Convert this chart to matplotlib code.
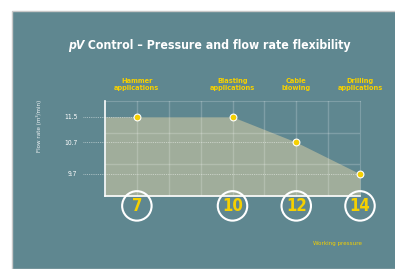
import matplotlib
matplotlib.use("Agg")
import matplotlib.pyplot as plt
from matplotlib.patches import Rectangle

# data
pressure = [6, 10, 12, 14]          # working pressure (bar) for the fill outline
flow = [11.5, 11.5, 10.7, 9.7]      # flow rate (m3/min)
point_x = [7, 10, 12, 14]
point_y = [11.5, 11.5, 10.7, 9.7]
apps = ["Hammer\napplications", "Blasting\napplications", "Cable\nblowing", "Drilling\napplications"]
ytick_vals = [9.7, 10.7, 11.5]
ytick_labels = ["9.7", "10.7", "11.5"]
guide_x = [7, 12, 14]               # where each dotted guide stops
guide_y = [11.5, 10.7, 9.7]

TEAL = "#5f8790"
FILL = "#a0ad9b"
YELLOW = "#f5d000"
plt.rcParams["font.family"] = "DejaVu Sans"
plt.rcParams["font.stretch"] = "condensed"

W, H = 395, 269
fig = plt.figure(figsize=(W / 100, H / 100), dpi=100, facecolor="white")

# teal panel with thin grey edge
fig.patches.append(Rectangle((12 / W, 0), 1, 1 - 11 / H, transform=fig.transFigure,
                             facecolor=TEAL, edgecolor="#c8c8c8", lw=1, zorder=-1))

ax = fig.add_axes([105 / W, (H - 196) / H, 255 / W, 95 / H])
ax.set_facecolor("none")
ax.set_xlim(6, 14)
ax.set_ylim(9, 12)

ax.fill_between(pressure, flow, 9, color=FILL, lw=0, zorder=1)

# grid
ax.set_xticks(range(7, 14))
ax.set_xticklabels([])
ax.set_yticks([10, 11], minor=True)
ax.grid(axis="x", color="white", alpha=0.2, lw=1)
ax.grid(axis="y", which="minor", color="white", alpha=0.2, lw=1)
ax.tick_params(axis="both", which="both", length=0)

# dotted guides
for gx, gy in zip(guide_x, guide_y):
    ax.plot([5.3, gx], [gy, gy], ls=(0, (1, 1.2)), color="white", alpha=0.6,
            lw=0.6, clip_on=False, zorder=2)

ax.set_yticks(ytick_vals)
ax.set_yticklabels(ytick_labels, color="white", fontsize=4.8)
ax.tick_params(axis="y", pad=20)

for s in ["top", "right"]:
    ax.spines[s].set_color("white")
    ax.spines[s].set_alpha(0.2)
for s in ["left", "bottom"]:
    ax.spines[s].set_color("white")
    ax.spines[s].set_linewidth(1.2)

ax.scatter(point_x, point_y, s=24, color=YELLOW, edgecolor="white", lw=0.8,
           zorder=5, clip_on=False)

# circled pressures below the axis
circle_y = 9 - 10 / 32.0
ax.scatter(point_x, [circle_y] * len(point_x), s=450, facecolor="none",
           edgecolor="white", lw=1.5, clip_on=False, zorder=5)
for px in point_x:
    ax.text(px, circle_y, str(px), ha="center", va="center", color=YELLOW,
            fontsize=12, fontweight="bold", zorder=6)

# application labels above
for px, lab in zip(point_x, apps):
    ax.text(px, 12.0 + 0.52, lab, ha="center", va="center", color=YELLOW,
            fontsize=5.3, fontweight="bold", linespacing=1.05)

fig.text(39 / W, 1 - 126 / H, "Flow rate (m\u00b3/min)", rotation=90, ha="center",
         va="center", color="white", fontsize=4.5, alpha=0.9)
fig.text(337 / W, 1 - 243 / H, "Working pressure", ha="center", va="center",
         color=YELLOW, fontsize=4.5)

# title: italic "pV" followed by the rest, fitted to the reference width
x0, x1, ty = 68, 352, 1 - 45 / H
fs = 11
t1 = fig.text(x0 / W, ty, "pV", ha="left", va="center", color="white",
              fontsize=fs, fontweight="bold", style="italic")
t2 = fig.text(x0 / W, ty, " Control \u2013 Pressure and flow rate flexibility",
              ha="left", va="center", color="white", fontsize=fs, fontweight="bold")
r = fig.canvas.get_renderer()
w = t1.get_window_extent(r).width + t2.get_window_extent(r).width
fs = fs * (x1 - x0) / w
t1.set_fontsize(fs)
t2.set_fontsize(fs)
w1 = t1.get_window_extent(r).width
t2.set_x((x0 + w1) / W)

fig.savefig("out.png", dpi=100, facecolor="white")
